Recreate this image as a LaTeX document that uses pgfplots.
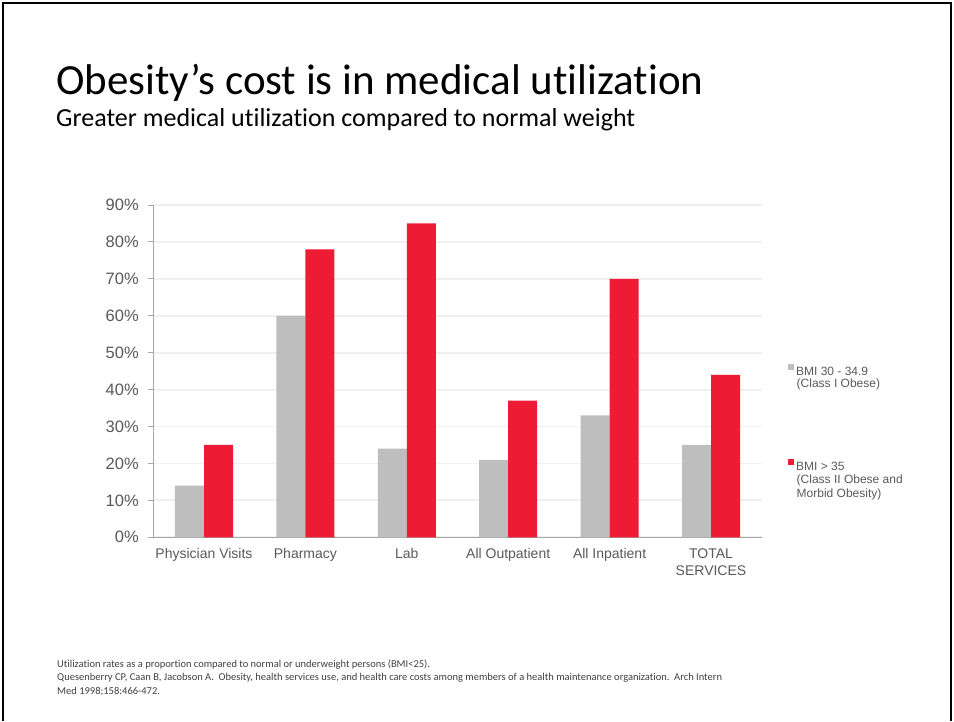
\documentclass[border=0pt]{standalone}
\usepackage{fontspec}
\setmainfont{Liberation Sans}
\newfontfamily\calfont[Ligatures=NoCommon]{Carlito}
\usepackage{pgfplots}
\pgfplotsset{compat=1.18}
\definecolor{barGray}{RGB}{190,190,190}
\definecolor{barRed}{RGB}{237,27,52}
\definecolor{txt}{RGB}{89,89,89}
\definecolor{gridc}{RGB}{240,240,240}
\definecolor{axc}{RGB}{166,166,166}
\definecolor{foot}{RGB}{64,64,64}

\pgfplotstableread{
x  g   r
0  14  25
1  60  78
2  24  85
3  21  37
4  33  70
5  25  44
}\datatable

\begin{document}
\begin{tikzpicture}[x=1pt,y=1pt]
\path[use as bounding box] (0,0) rectangle (954,721);
\draw[black, line width=2.5pt] (3,0) -- (3,718) -- (951,718) -- (951,0);
\node[anchor=base west, inner sep=0] at (56,721-95) {\calfont\fontsize{43}{50}\selectfont Obesity’s cost is in medical utilization};
\node[anchor=base west, inner sep=0] at (56,721-127) {\calfont\fontsize{26}{30}\selectfont Greater medical utilization compared to normal weight};

\begin{axis}[
  at={(153.3pt,183.7pt)}, anchor=south west,
  width=608.4pt, height=332.3pt, scale only axis,
  xmin=-0.5, xmax=5.5, ymin=0, ymax=90,
  ybar=0pt, bar width=29pt,
  axis x line*=bottom, axis y line*=left,
  axis line style={axc, line width=1pt, -},
  tick align=outside,
  ytick={0,10,...,90},
  yticklabel={\pgfmathprintnumber{\tick}\%},
  /pgf/number format/assume math mode=true,
  yticklabel style={font=\fontsize{16.5}{19}\selectfont, text=txt, anchor=east, xshift=-6pt},
  ytick style={axc, line width=1pt},
  major tick length=5pt,
  ymajorgrids, major grid style={gridc, line width=1.8pt},
  xtick={0,...,5},
  xticklabels={Physician Visits, Pharmacy, Lab, All Outpatient, All Inpatient, {TOTAL\\SERVICES}},
  xticklabel style={font=\fontsize{14}{17}\selectfont, text=txt, align=center, anchor=north, yshift=-3pt},
  xtick style={draw=none},
  extra x ticks={-0.5,0.5,1.5,2.5,3.5,4.5,5.5},
  extra x tick labels={},
  extra x tick style={grid=none, tick style={axc, line width=1pt, draw=axc}},
  legend style={draw=none, fill=none, at={(1.0426,0.521)}, anchor=north west,
    inner sep=0pt, outer sep=0pt, row sep=83pt,
    nodes={inner sep=0pt, text height=8.5pt, text depth=0pt, font=\fontsize{12}{14}\selectfont, text=txt},
    /tikz/every odd column/.style={column sep=2.5pt}},
  legend cell align=left,
  legend image code/.code={\fill[#1,draw=none] (0pt,1.5pt) rectangle (6pt,7.5pt);},
  clip=false,
]
\addplot[fill=barGray, draw=none] table[x=x, y=g] {\datatable};
\addlegendentry{BMI 30 - 34.9}
\addplot[fill=barRed, draw=none] table[x=x, y=r] {\datatable};
\addlegendentry{BMI > 35}
\end{axis}

\begin{scope}[every node/.style={anchor=base west, inner sep=0pt, text=txt, font=\fontsize{12}{14}\selectfont}]
\node at (796.5,721-388) {(Class I Obese)};
\node at (796.5,721-483.5) {(Class II Obese and};
\node at (796.5,721-497.5) {Morbid Obesity)};
\end{scope}

\begin{scope}[every node/.style={anchor=base west, inner sep=0pt, text=foot, font=\calfont\fontsize{10.5}{12}\selectfont}]
\node at (57,721-667) {Utilization rates as a proportion compared to normal or underweight persons (BMI<25).};
\node at (57,721-680.5) {Quesenberry CP, Caan B, Jacobson A.\ \ Obesity, health services use, and health care costs among members of a health maintenance organization.\ \ Arch Intern};
\node at (57,721-694) {Med 1998;158:466-472.};
\end{scope}
\end{tikzpicture}
\end{document}
